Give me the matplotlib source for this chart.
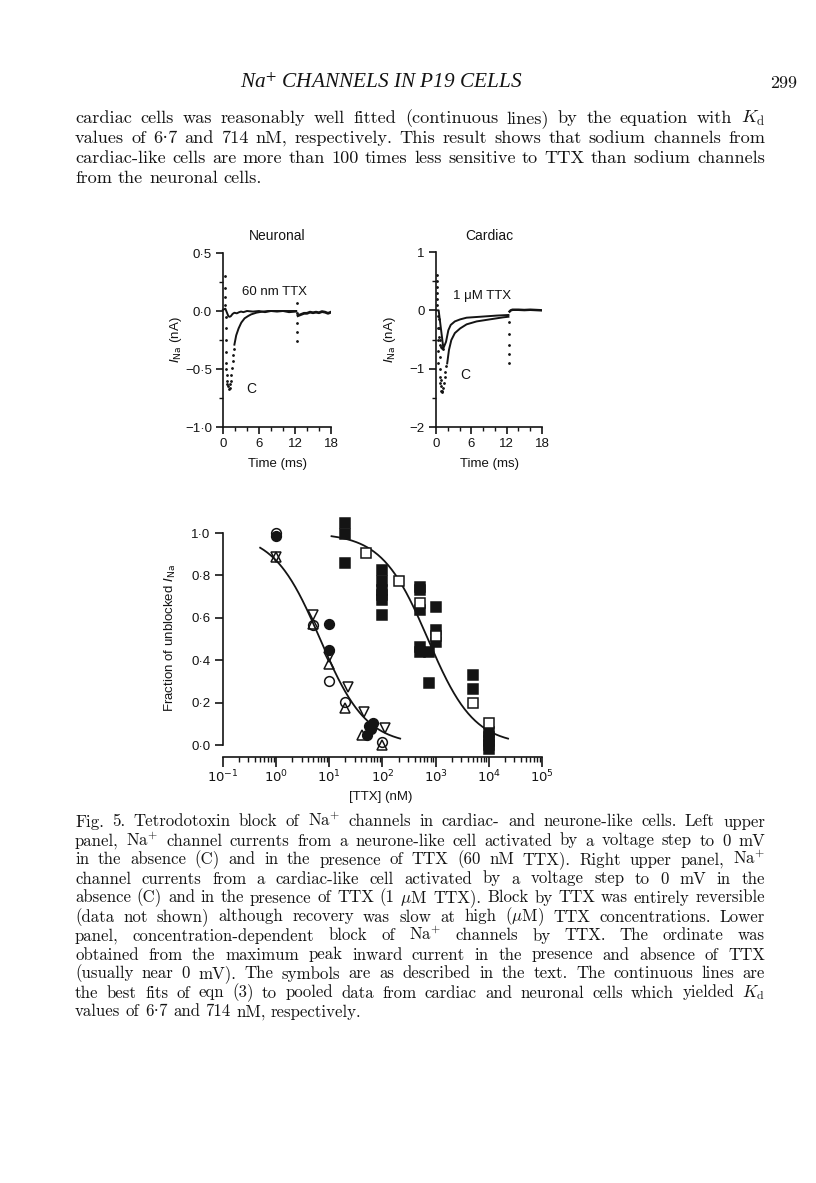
import numpy as np
import matplotlib
matplotlib.use('Agg')
import matplotlib.pyplot as plt
from matplotlib.ticker import MultipleLocator, LogLocator, NullFormatter

# ---- data ----
# upper panels: time (ms), current (nA)
neu_c_dots_t = [0.3, 0.3, 0.3, 0.3, 0.55, 0.55, 0.55, 0.55, 0.55, 0.55, 0.75, 0.75, 0.75,
                0.9, 1.0, 1.1, 1.2, 1.3, 1.4, 1.5, 1.6, 1.7, 1.8]
neu_c_dots_i = [0.3, 0.2, 0.12, 0.05, -0.05, -0.15, -0.25, -0.35, -0.45, -0.5, -0.55, -0.6, -0.63,
                -0.65, -0.67, -0.66, -0.63, -0.6, -0.55, -0.49, -0.43, -0.38, -0.33]
neu_c_t = [1.9, 2.2, 2.6, 3.05, 3.6, 4.2, 4.7, 5.6, 6.5, 7.5, 9, 10.5, 12.2]
neu_c_i = [-0.29, -0.21, -0.15, -0.10, -0.063, -0.043, -0.029, -0.014, -0.006, 0.0, 0.0, 0.0, 0.0]
neu_ttx_t = [0, 0.4, 0.7, 0.9, 1.1, 1.3, 1.6, 1.9, 2.3, 2.7, 3.0, 3.4, 4, 5, 6, 7, 8, 9, 10, 11, 12.2]
neu_ttx_i = [0.01, 0.02, -0.02, -0.045, -0.05, -0.045, -0.025, -0.015, -0.02, -0.01, -0.005,
             -0.01, 0.0, -0.005, 0.0, -0.01, 0.0, -0.005, 0.0, -0.01, -0.005]
neu_step_t = [12.4, 12.4, 12.4, 12.4, 12.4]
neu_step_i = [0.07, -0.02, -0.1, -0.18, -0.26]
neu_post_t = [12.5, 13, 13.5, 14, 14.5, 15, 15.5, 16, 16.5, 17, 17.5, 18]
neu_post_i = [-0.04, -0.03, -0.02, -0.02, -0.01, -0.015, -0.01, -0.015, -0.005, -0.01, -0.02, -0.01]

card_c_dots_t = [0.2, 0.2, 0.2, 0.2, 0.2, 0.2, 0.4, 0.4, 0.4, 0.4, 0.4, 0.6, 0.6, 0.6, 0.6,
                 0.8, 0.8, 0.8, 0.95, 1.05, 1.15, 1.3, 1.45, 1.6, 1.75]
card_c_dots_i = [0.6, 0.5, 0.4, 0.3, 0.2, 0.1, -0.1, -0.3, -0.5, -0.7, -0.9, -0.8, -1.0, -1.15, -1.25,
                 -1.2, -1.3, -1.38, -1.4, -1.38, -1.33, -1.25, -1.15, -1.05, -0.95]
card_c_t = [1.9, 2.2, 2.6, 3.2, 4.1, 5.2, 6.9, 9.2, 11.4, 12.3]
card_c_i = [-0.91, -0.68, -0.51, -0.39, -0.31, -0.24, -0.19, -0.154, -0.12, -0.11]
card_ttx_dots_t = [0.5, 0.5, 0.5, 0.7, 0.7, 0.9, 1.05, 1.2]
card_ttx_dots_i = [-0.15, -0.3, -0.45, -0.5, -0.6, -0.62, -0.65, -0.66]
card_ttx_t = [0, 0.45, 1.25, 1.7, 2.1, 2.5, 3.2, 4.1, 5.2, 7.5, 10.3, 12.3]
card_ttx_i = [0.0, 0.0, -0.65, -0.54, -0.34, -0.25, -0.19, -0.155, -0.126, -0.11, -0.09, -0.08]
card_step_t = [12.4, 12.4, 12.4, 12.4, 12.4]
card_step_i = [-0.2, -0.4, -0.6, -0.75, -0.91]
card_post_t = [12.5, 12.7, 13, 14, 15, 16, 17, 18]
card_post_i = [-0.02, 0.0, 0.01, 0.01, 0.005, 0.01, 0.005, 0.0]

# lower panel: [TTX] (nM), fraction unblocked
neu_open_circle_x = [1, 5, 10, 20, 100]
neu_open_circle_y = [1.0, 0.565, 0.30, 0.205, 0.012]
neu_filled_circle_x = [1, 10, 10, 55, 65, 62, 52]
neu_filled_circle_y = [0.985, 0.57, 0.45, 0.09, 0.105, 0.075, 0.045]
neu_up_tri_x = [1, 5, 10, 20, 41, 100]
neu_up_tri_y = [0.885, 0.57, 0.38, 0.175, 0.045, 0.0]
neu_down_tri_x = [1, 5, 10, 22, 44, 110]
neu_down_tri_y = [0.885, 0.615, 0.415, 0.275, 0.155, 0.08]
card_filled_x = [20, 20, 20, 100, 100, 100, 100, 100, 100, 500, 500, 500, 500, 500,
                 1000, 1000, 1000, 750, 750, 5000, 5000, 10000, 10000, 10000, 10000, 10000]
card_filled_y = [1.047, 0.995, 0.86, 0.825, 0.773, 0.731, 0.708, 0.684, 0.613, 0.747, 0.73, 0.637,
                 0.464, 0.44, 0.652, 0.542, 0.487, 0.44, 0.294, 0.332, 0.263, 0.063, 0.04, 0.02, 0.0, -0.02]
card_open_x = [50, 200, 500, 1000, 5000, 10000]
card_open_y = [0.905, 0.773, 0.668, 0.514, 0.197, 0.102]
kd_neuronal = 6.7
kd_cardiac = 714.0

# ---- text ----
header = 'Na$^{+}$ CHANNELS IN P19 CELLS'
page_number = '299'
body_lines = [
    'cardiac cells was reasonably well fitted (continuous lines) by the equation with $K_\\mathrm{d}$',
    'values of 6·7 and 714 nM, respectively. This result shows that sodium channels from',
    'cardiac-like cells are more than 100 times less sensitive to TTX than sodium channels',
    'from the neuronal cells.',
]
caption_lines = [
    'Fig. 5. Tetrodotoxin block of Na$^{+}$ channels in cardiac- and neurone-like cells. Left upper',
    'panel, Na$^{+}$ channel currents from a neurone-like cell activated by a voltage step to 0 mV',
    'in the absence (C) and in the presence of TTX (60 nM TTX). Right upper panel, Na$^{+}$',
    'channel currents from a cardiac-like cell activated by a voltage step to 0 mV in the',
    'absence (C) and in the presence of TTX (1 $\\mu$M TTX). Block by TTX was entirely reversible',
    '(data not shown) although recovery was slow at high ($\\mu$M) TTX concentrations. Lower',
    'panel, concentration-dependent block of Na$^{+}$ channels by TTX. The ordinate was',
    'obtained from the maximum peak inward current in the presence and absence of TTX',
    '(usually near 0 mV). The symbols are as described in the text. The continuous lines are',
    'the best fits of eqn (3) to pooled data from cardiac and neuronal cells which yielded $K_\\mathrm{d}$',
    'values of 6·7 and 714 nM, respectively.',
]

W, H = 816, 1183
INK = '#141414'
SANS = 'Liberation Sans'
SERIF = ['cmr10', 'Liberation Serif', 'DejaVu Serif']
plt.rcParams['font.family'] = SANS
plt.rcParams['text.color'] = INK
plt.rcParams['axes.edgecolor'] = INK
plt.rcParams['xtick.color'] = INK
plt.rcParams['ytick.color'] = INK
plt.rcParams['axes.unicode_minus'] = True

fig = plt.figure(figsize=(W / 100, H / 100), dpi=100)
fig.patch.set_facecolor('white')


def rect(l, t, r, b):
    return [l / W, 1 - b / H, (r - l) / W, (b - t) / H]


def fy(y):
    return 1 - y / H


def style(ax):
    for s in ['top', 'right']:
        ax.spines[s].set_visible(False)
    for s in ['left', 'bottom']:
        ax.spines[s].set_linewidth(1.2)
    ax.patch.set_visible(False)
    ax.tick_params(which='major', direction='out', length=5, width=1.2, labelsize=9.5, pad=3)
    ax.tick_params(which='minor', direction='out', length=3, width=1.0)


def trace_panel(ax, ylim, yticks, ylabels, yminor):
    style(ax)
    ax.set_xlim(0, 18)
    ax.set_ylim(*ylim)
    ax.set_xticks([0, 6, 12, 18])
    ax.set_xticklabels(['0', '6', '12', '18'])
    ax.xaxis.set_minor_locator(MultipleLocator(2))
    ax.set_yticks(yticks)
    ax.set_yticklabels(ylabels)
    ax.yaxis.set_minor_locator(MultipleLocator(yminor))


LW = 1.4
DOT = 2.0

# ---- Neuronal panel ----
ax1 = fig.add_axes(rect(223, 253, 331, 427))
trace_panel(ax1, (-1.0, 0.5), [0.5, 0.0, -0.5, -1.0], ['0·5', '0·0', '−0·5', '−1·0'], 0.25)
ax1.plot(neu_ttx_t, neu_ttx_i, color=INK, lw=LW, clip_on=False)
ax1.plot(neu_c_t, neu_c_i, color=INK, lw=LW)
ax1.plot(neu_post_t, neu_post_i, color=INK, lw=2.0)
ax1.plot(neu_c_dots_t, neu_c_dots_i, '.', color=INK, ms=DOT)
ax1.plot(neu_step_t, neu_step_i, '.', color=INK, ms=DOT)
ax1.text(3.2, 0.16, '60 nm TTX', fontsize=9.5, va='center')
ax1.text(3.8, -0.67, 'C', fontsize=10, va='center')
fig.text(277 / W, fy(236), 'Neuronal', ha='center', va='center', fontsize=10)
fig.text(277 / W, fy(464), 'Time (ms)', ha='center', va='center', fontsize=9.5)
fig.text(176 / W, fy(340), '$I_\\mathrm{Na}$ (nA)', rotation=90, ha='center', va='center',
         fontsize=9.5, math_fontfamily='dejavusans')

# ---- Cardiac panel ----
ax2 = fig.add_axes(rect(436, 252, 542, 427))
trace_panel(ax2, (-2.0, 1.0), [1, 0, -1, -2], ['1', '0', '−1', '−2'], 0.5)
ax2.plot(card_ttx_t, card_ttx_i, color=INK, lw=LW)
ax2.plot(card_c_t, card_c_i, color=INK, lw=LW)
ax2.plot(card_post_t, card_post_i, color=INK, lw=1.8)
ax2.plot(card_c_dots_t, card_c_dots_i, '.', color=INK, ms=DOT)
ax2.plot(card_ttx_dots_t, card_ttx_dots_i, '.', color=INK, ms=DOT)
ax2.plot(card_step_t, card_step_i, '.', color=INK, ms=DOT)
ax2.text(2.9, 0.24, '1 μM TTX', fontsize=9.5, va='center')
ax2.text(4.1, -1.1, 'C', fontsize=10, va='center')
fig.text(489 / W, fy(236), 'Cardiac', ha='center', va='center', fontsize=10)
fig.text(489 / W, fy(464), 'Time (ms)', ha='center', va='center', fontsize=9.5)
fig.text(390 / W, fy(340), '$I_\\mathrm{Na}$ (nA)', rotation=90, ha='center', va='center',
         fontsize=9.5, math_fontfamily='dejavusans')

# ---- Dose-response panel ----
ax3 = fig.add_axes(rect(223, 512, 542, 757))
style(ax3)
ax3.set_xscale('log')
ax3.set_xlim(0.1, 1e5)
ax3.set_ylim(-12 / 212, 233 / 212)
ax3.spines['left'].set_bounds(0, 1)
ax3.set_yticks([0, 0.2, 0.4, 0.6, 0.8, 1.0])
ax3.set_yticklabels(['0·0', '0·2', '0·4', '0·6', '0·8', '1·0'])
ax3.xaxis.set_minor_locator(LogLocator(base=10, subs=np.arange(2, 10), numticks=20))
ax3.xaxis.set_minor_formatter(NullFormatter())
ax3.set_xticks([0.1, 1, 10, 100, 1000, 10000, 100000])
ax3.set_xticklabels(['$10^{-1}$', '$10^{0}$', '$10^{1}$', '$10^{2}$', '$10^{3}$', '$10^{4}$', '$10^{5}$'])
for lab in ax3.get_xticklabels():
    lab.set_math_fontfamily('dejavusans')
ax3.tick_params(axis='x', which='major', length=7, pad=1.5)
ax3.tick_params(axis='x', which='minor', length=3.5)
ax3.tick_params(axis='y', which='major', length=6)

xn = np.logspace(np.log10(0.5), np.log10(215), 200)
ax3.plot(xn, 1 / (1 + xn / kd_neuronal), color=INK, lw=1.3)
xc = np.logspace(np.log10(11), np.log10(23000), 200)
ax3.plot(xc, 1 / (1 + xc / kd_cardiac), color=INK, lw=1.3)

mk = dict(linestyle='none', clip_on=False, mec=INK, mew=1.1)
ax3.plot(card_filled_x, card_filled_y, 's', mfc=INK, ms=6.5, **mk)
ax3.plot(card_open_x, card_open_y, 's', mfc='white', ms=6.5, **mk)
ax3.plot(neu_filled_circle_x, neu_filled_circle_y, 'o', mfc=INK, ms=7, **mk)
ax3.plot(neu_up_tri_x, neu_up_tri_y, '^', mfc='none', ms=7.5, **mk)
ax3.plot(neu_down_tri_x, neu_down_tri_y, 'v', mfc='none', ms=7.5, **mk)
ax3.plot(neu_open_circle_x, neu_open_circle_y, 'o', mfc='none', ms=7, **mk)
fig.text(381 / W, fy(797), '[TTX] (nM)', ha='center', va='center', fontsize=9.5)
fig.text(170 / W, fy(638), 'Fraction of unblocked $I_\\mathrm{Na}$', rotation=90, ha='center',
         va='center', fontsize=9.5, math_fontfamily='dejavusans')

# ---- page text ----
renderer = fig.canvas.get_renderer()


def text_width(s, size, **kw):
    t = fig.text(0, 0, s, fontsize=size, family=SERIF, math_fontfamily='cm', **kw)
    w = t.get_window_extent(renderer).width
    t.remove()
    return w


def justified(line, base_y, size, left=75, right=765, last=False):
    words = line.split(' ')
    texts = [fig.text(0, fy(base_y), w, fontsize=size, family=SERIF, math_fontfamily='cm',
                      va='baseline', ha='left') for w in words]
    widths = [t.get_window_extent(renderer).width for t in texts]
    if last or len(words) == 1:
        gap = size * 0.45
    else:
        gap = (right - left - sum(widths)) / (len(words) - 1)
    x = left
    for t, w in zip(texts, widths):
        t.set_x(x / W)
        x += w + gap


# header in italic serif, scaled to the printed width
hw = fig.text(0, 0, header, fontsize=10, family='Liberation Serif', style='italic',
              math_fontfamily='stix').get_window_extent(renderer).width
fig.texts[-1].remove()
hsize = 10 * 283 / hw
fig.text(381.5 / W, fy(88), header, ha='center', va='baseline', fontsize=hsize,
         family='Liberation Serif', style='italic', math_fontfamily='stix')
fig.text(797 / W, fy(88), page_number, ha='right', va='baseline', fontsize=13, family=SERIF)

# body and caption sizes chosen so the tightest line fills the measure
body_size = 10 * 686 / text_width(body_lines[2], 10)
cap_size = 10 * 688 / text_width(caption_lines[4], 10)

for k, line in enumerate(body_lines):
    justified(line, 123 + 20 * k, body_size, last=(k == len(body_lines) - 1))

for k, line in enumerate(caption_lines):
    justified(line, 826.5 + 19 * k, cap_size, last=(k == len(caption_lines) - 1))

fig.savefig('out.png', dpi=100)
